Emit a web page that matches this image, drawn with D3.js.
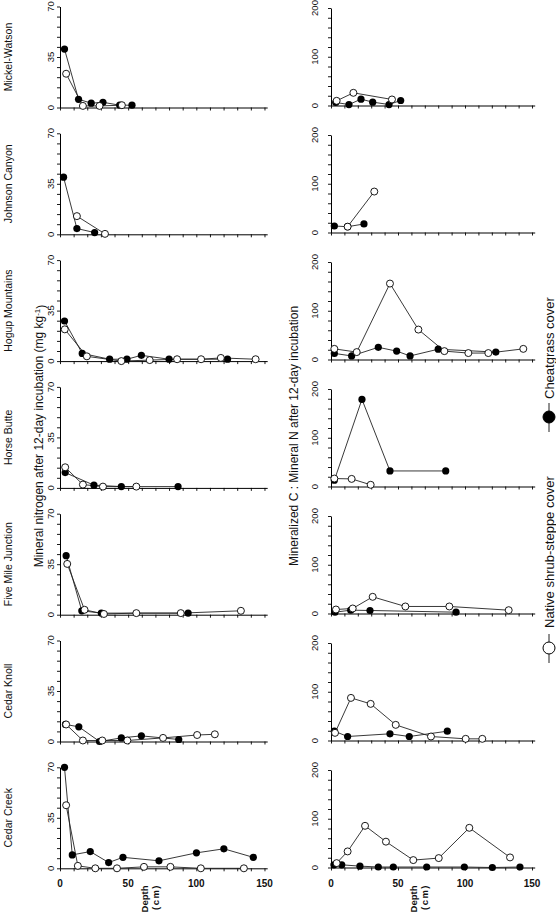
<!DOCTYPE html>
<html><head><meta charset="utf-8">
<script src="https://cdn.jsdelivr.net/npm/d3@7"></script>
<style>
body{margin:0;background:#fff}
svg{display:block;font-family:"Liberation Sans",Arial,Helvetica,sans-serif}
</style>
</head><body>
<svg id="chart" width="556" height="915"></svg>
<script>
// ---------- DATA ----------
const sites = ["Mickel-Watson","Johnson Canyon","Hogup Mountains","Horse Butte","Five Mile Junction","Cedar Knoll","Cedar Creek"];
const seriesNames = ["Cheatgrass cover","Native shrub-steppe cover"];
const leftTitle = "Mineral nitrogen after 12-day incubation (mg kg";
const rightTitle = "Mineralized C : Mineral N after 12-day incubation";
const xTickValues = [0,10,20,30,40,50,60,70,80,90,100,110,120,130,140,150];
const xTickLabels = [0,50,100,150];
const nTickValues = [0,7,14,21,28,35,42,49,56,63,70];
const nTickLabels = [0,35,70];
const cnTickValues = [0,20,40,60,80,100,120,140,160,180,200];
const cnTickLabels = [0,100,200];

// Mineral N (mg/kg), [depth cm, value], one list per site
const nCheatgrass = [
  [[3.3,40.5],[13.6,5.7],[22.9,3],[31.5,3.6],[43.8,1.6],[52.8,1.6]],
  [[2.6,39.6],[12.4,4],[25.4,1.2]],
  [[3.3,27.8],[16.3,5.3],[36.4,1.3],[49.1,1.3],[59.7,4],[80,1.3],[122.9,1.3]],
  [[3.8,10.6],[24.9,1.9],[45,0.9],[86.6,0.9]],
  [[4.5,40.9],[16,2.7],[30.3,1.1],[94,1.1]],
  [[4,11.8],[13.8,10.2],[29,0],[45,2.5],[59.7,3.9],[87.1,1.4]],
  [[3.3,70],[9,9.3],[22.2,11.6],[35.7,4],[46.2,7.6],[72.6,5.2],[100.1,10.7],[120.2,13.5],[141.8,7.6]]
];
const nNative = [
  [[4.5,23.4],[16.8,1.1],[29,1.1],[45.4,1.6]],
  [[12.4,12.6],[33,0.3]],
  [[3.5,22],[19.7,3.3],[45,0],[65.8,0.7],[85.9,1.3],[103.5,1.3],[118,2.2],[143.5,1.3]],
  [[3.8,14.3],[16.8,2.3],[31.5,0.9],[56,0.9]],
  [[5.3,35.2],[18,3.4],[32.2,0.5],[56,1.1],[88.6,1.1],[132.7,2.7]],
  [[4.5,11.8],[16.8,0.7],[31,0.7],[49.4,0.7],[75.6,2.5],[100.6,4.5],[113.6,5]],
  [[4.5,43.7],[13.1,1.7],[25.9,0],[41.8,0],[61.6,1],[81,1],[103.3,0],[134.9,0]]
];
// Mineralized C : mineral N ratio
const cnCheatgrass = [
  [[3.5,6.2],[13.4,2],[22.4,13],[31.1,6.9],[43.3,2],[52,10.3]],
  [[2.5,13.3],[12.4,11.9],[24.6,17.5]],
  [[2.5,12.5],[15.4,7.3],[35.3,25],[49,17.2],[59,7.3],[80,21.1],[123,15.2]],
  [[2.5,12.8],[23.1,178.7],[44,31.9],[85.6,31.9]],
  [[3,2.7],[14.7,6.8],[29.1,6.2],[93.3,2.7]],
  [[2.5,19.1],[12.4,8.2],[44,13.7],[58.4,8.2],[86.8,19.1]],
  [[2.2,5.5],[8,5.5],[21.6,2.8],[35.3,1],[46.5,1],[71.4,1],[99.5,1],[120.4,0],[141,1]]
];
const cnNative = [
  [[4.2,9.6],[16.7,26],[45.5,12.4]],
  [[12.4,12],[32.3,84]],
  [[2.5,21.8],[19.2,15.2],[44,155.8],[65.2,61.4],[84.6,17.2],[102.5,13.2],[117.4,13.2],[143.5,21.8]],
  [[2.5,16.3],[15.4,15.6],[29.6,3.5]],
  [[3.7,8.2],[16.2,10.3],[31.1,34.2],[55.5,14.4],[88.3,14.4],[132.6,6.8]],
  [[3,15.7],[14.9,87.4],[29.6,75.1],[48.3,32.1],[74.6,8.2],[100.5,3.4],[112.9,3.4]],
  [[4.2,9],[12.4,33],[25.4,85.5],[41,53],[61.4,15.2],[80.4,19.3],[103.2,81.4],[133.6,20.7]]
];

// ---------- LAYOUT ----------
const svg = d3.select("#chart");
const cols = [
  {x0:60, x1:267.2, top:i=>6.5+i*126.8, h:101, yMax:70, ticks:nTickValues, labels:nTickLabels,
   cheat:nCheatgrass, nat:nNative, tickLabelX:51},
  {x0:331, x1:534.7, top:i=>8+i*127, h:97.5, yMax:200, ticks:cnTickValues, labels:cnTickLabels,
   cheat:cnCheatgrass, nat:cnNative, tickLabelX:315}
];

cols.forEach((c, ci) => {
  const x = d3.scaleLinear().domain([0,152]).range([c.x0, c.x1]);
  sites.forEach((site, i) => {
    const top = c.top(i), bottom = top + c.h;
    const y = d3.scaleLinear().domain([0, c.yMax]).range([bottom, top]);
    const g = svg.append("g");
    const isBottom = i === sites.length - 1;

    // x axis
    const xa = g.append("g").attr("transform", `translate(0,${bottom})`)
      .call(d3.axisBottom(x).tickValues(xTickValues).tickSize(3).tickSizeOuter(0).tickFormat(() => ""));
    xa.select(".domain").attr("stroke","#000").attr("stroke-width",1);
    xa.selectAll(".tick line").attr("stroke","#000").attr("stroke-width",0.9);
    if (isBottom) {
      g.selectAll(".xlab").data(xTickLabels).enter().append("text")
        .attr("x", d => x(d)).attr("y", bottom + 19)
        .attr("text-anchor","middle").attr("font-size",10).attr("font-weight","bold")
        .attr("fill","#111").text(d => d);
      const cx = x(68);
      g.append("text").attr("transform",`translate(${cx-5},899) rotate(-90)`)
        .attr("text-anchor","middle").attr("font-size",9.5).attr("font-weight","bold")
        .attr("fill","#111").text("Depth");
      g.append("text").attr("transform",`translate(${cx+6},897) rotate(-90)`)
        .attr("text-anchor","middle").attr("font-size",9.5).attr("font-weight","bold")
        .attr("letter-spacing",1.5).attr("fill","#111").text("(cm)");
    }

    // y axis
    const ya = g.append("g").attr("transform", `translate(${c.x0},0)`)
      .call(d3.axisLeft(y).tickValues(c.ticks).tickSize(3).tickSizeOuter(0).tickFormat(() => ""));
    ya.select(".domain").attr("stroke","#000").attr("stroke-width",1);
    ya.selectAll(".tick line").attr("stroke","#000").attr("stroke-width",0.9);
    g.selectAll(".ylab").data(c.labels).enter().append("text")
      .attr("transform", d => `translate(${c.tickLabelX},${y(d)}) rotate(-90)`)
      .attr("text-anchor","middle").attr("dy","0.35em")
      .attr("font-size",9.5).attr("fill","#111").text(d => d);

    if (ci === 0) {
      g.append("text").attr("transform",`translate(8,${(top+bottom)/2}) rotate(-90)`)
        .attr("text-anchor","middle").attr("dy","0.35em")
        .attr("font-size",10.5).attr("fill","#111").text(site);
    }

    const line = d3.line().x(d => x(d[0])).y(d => y(d[1]));
    g.append("path").datum(c.cheat[i]).attr("d", line)
      .attr("fill","none").attr("stroke","#222").attr("stroke-width",0.9);
    g.append("path").datum(c.nat[i]).attr("d", line)
      .attr("fill","none").attr("stroke","#222").attr("stroke-width",0.9);
    g.selectAll(".cg").data(c.cheat[i]).enter().append("circle")
      .attr("cx", d => x(d[0])).attr("cy", d => y(d[1])).attr("r",3.6)
      .attr("fill","#000");
    g.selectAll(".nt").data(c.nat[i]).enter().append("circle")
      .attr("cx", d => x(d[0])).attr("cy", d => y(d[1])).attr("r",3.5)
      .attr("fill","#fff").attr("stroke","#000").attr("stroke-width",0.9);
  });
});

// axis titles
const lt = svg.append("text").attr("transform","translate(39,436) rotate(-90)")
  .attr("text-anchor","middle").attr("dy","0.35em").attr("font-size",12).attr("fill","#111");
lt.append("tspan").text(leftTitle);
lt.append("tspan").attr("dy","-0.45em").attr("font-size",8).text("-1");
lt.append("tspan").attr("dy","0.45em").text(")");

svg.append("text").attr("transform","translate(294,436) rotate(-90)")
  .attr("text-anchor","middle").attr("dy","0.35em").attr("font-size",12).attr("fill","#111")
  .text(rightTitle);

// legend
const lgX = 549;
const legend = [
  {name: seriesNames[0], fill:"#000", textBottom:399, cy:417},
  {name: seriesNames[1], fill:"#fff", textBottom:628, cy:648}
];
legend.forEach(l => {
  svg.append("line").attr("x1",lgX).attr("x2",lgX).attr("y1",l.cy-14).attr("y2",l.cy+15)
    .attr("stroke","#222").attr("stroke-width",1);
  svg.append("circle").attr("cx",lgX).attr("cy",l.cy).attr("r",6)
    .attr("fill",l.fill).attr("stroke","#000").attr("stroke-width",1);
  svg.append("text").attr("transform",`translate(${lgX},${l.textBottom}) rotate(-90)`)
    .attr("text-anchor","start").attr("dy","0.35em").attr("font-size",13).attr("fill","#111")
    .text(l.name);
});
</script>
</body></html>
